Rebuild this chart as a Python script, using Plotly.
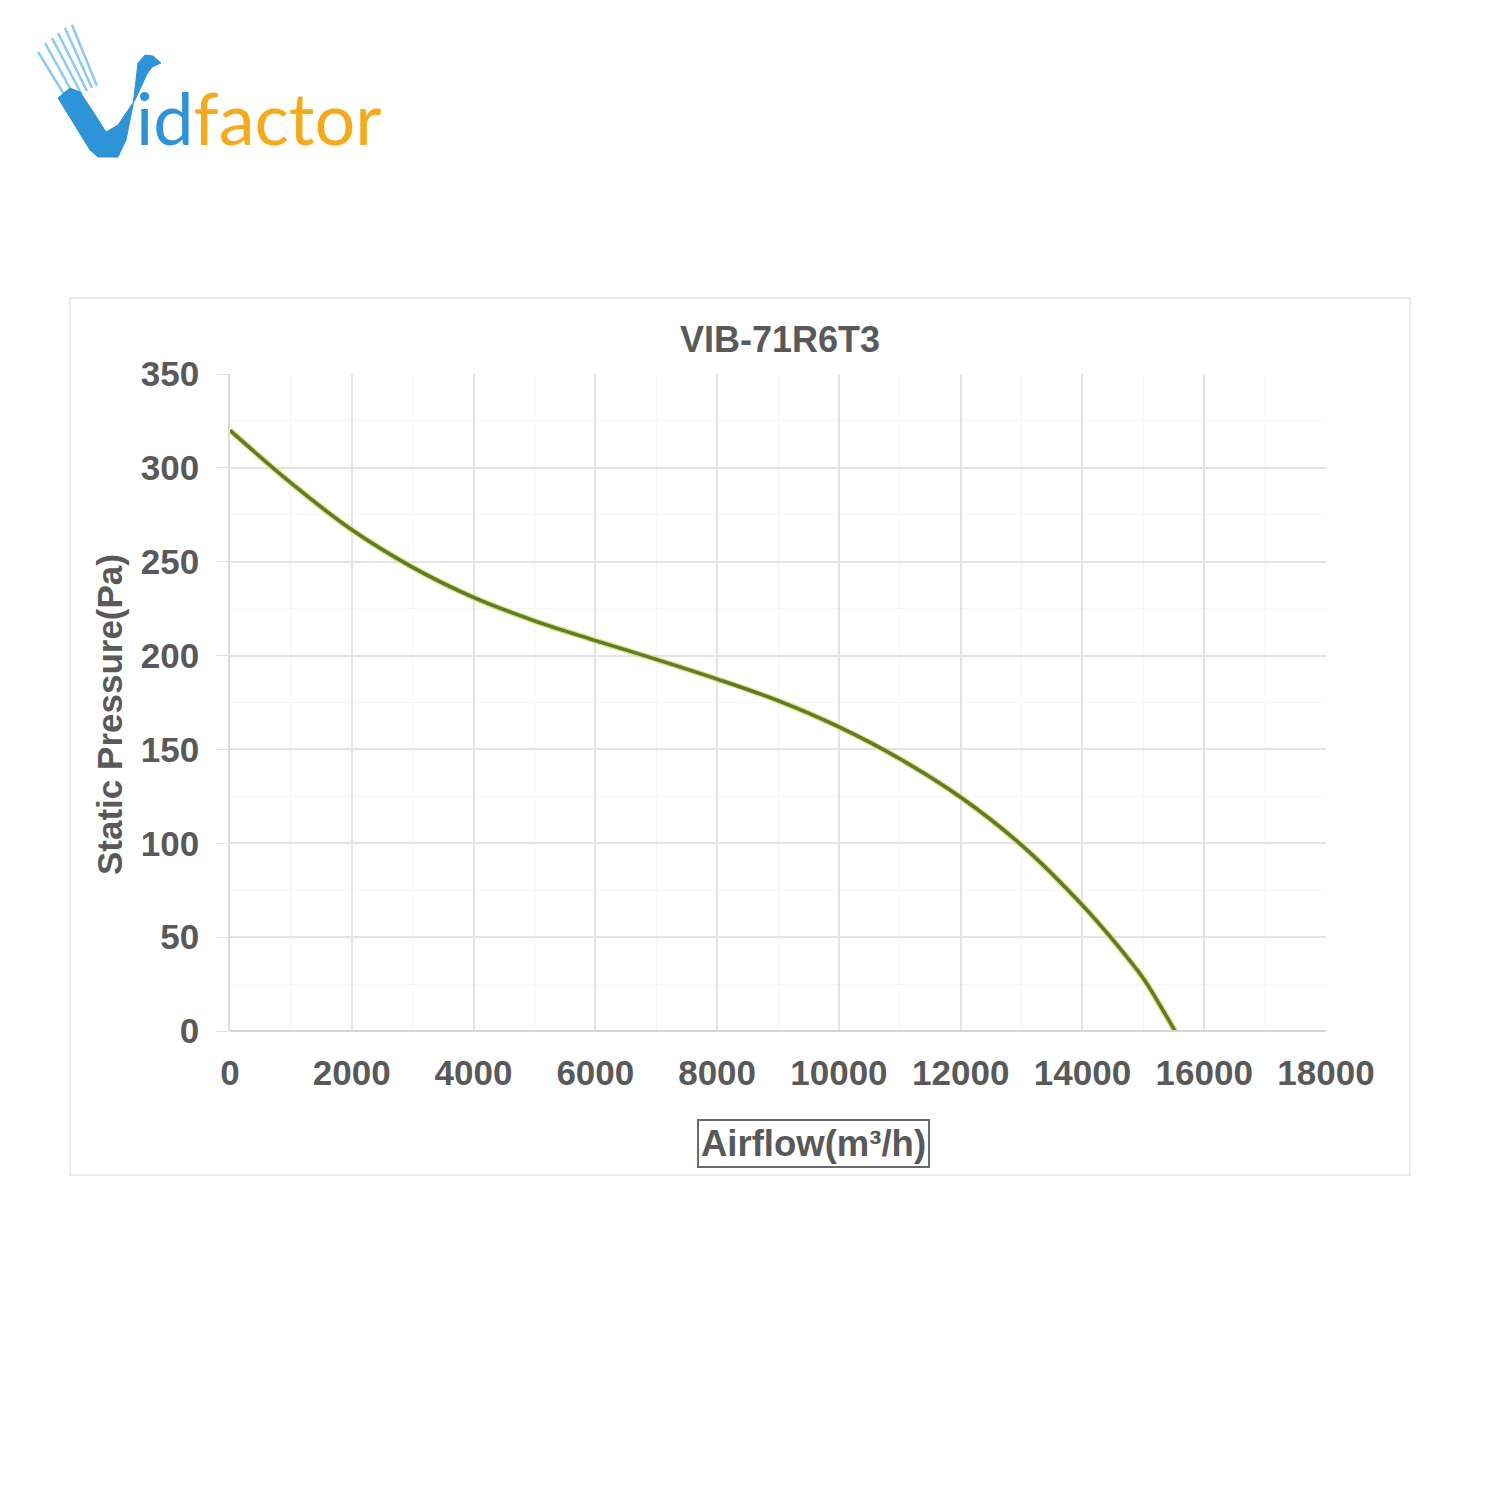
import plotly.graph_objects as go

# ---- data ----
airflow = [0, 1000, 2000, 3000, 4000, 5000, 6000, 7000, 8000, 9000, 10000, 11000, 12000, 13000, 14000, 14500, 15000, 15250, 15520]
pressure = [320, 292, 267, 247, 231, 218.5, 208, 198, 187.5, 176, 162, 145, 124.5, 99, 67, 48.5, 28, 15, 0]
x_ticks = [0, 2000, 4000, 6000, 8000, 10000, 12000, 14000, 16000, 18000]
x_tick_labels = ["0", "2000", "4000", "6000", "8000", "10000", "12000", "14000", "16000", "18000"]
y_ticks = [0, 50, 100, 150, 200, 250, 300, 350]
title_text = "VIB-71R6T3"
x_title = "Airflow(m³/h)"
y_title = "Static Pressure(Pa)"

W, H = 1500, 1500
OFF = 8  # page offset of the figure
L, R, T, B = 230 - OFF, 1326 - OFF, 374 - OFF, 1031 - OFF


def px(x):
    return (x - OFF - L) / (R - L)


def py(y):
    return (B - (y - OFF)) / (B - T)


FONT = "Liberation Sans, Arial"
GREY = "#595959"

fig = go.Figure()
fig.add_trace(go.Scatter(
    x=airflow, y=pressure, mode="lines",
    line=dict(color="#d8e27a", width=6, shape="spline", smoothing=1.0),
    hoverinfo="skip", showlegend=False))
fig.add_trace(go.Scatter(
    x=airflow, y=pressure, mode="lines",
    line=dict(color="#5e7a2a", width=3.5, shape="spline", smoothing=1.0),
    showlegend=False))

fig.update_layout(
    width=W, height=H, autosize=False,
    margin=dict(l=L, r=W - R, t=T, b=H - B),
    paper_bgcolor="white", plot_bgcolor="white",
    showlegend=False,
    xaxis=dict(range=[0, 18000], tickvals=x_ticks, ticktext=x_tick_labels, showgrid=True,
               gridcolor="#e4e4e4", gridwidth=1.5, zeroline=False,
               showline=False, ticks="outside", ticklen=0,
               ticklabelstandoff=11,
               tickfont=dict(family=FONT, size=35, color=GREY, weight="bold"),
               minor=dict(dtick=1000, showgrid=True, gridcolor="#f6f6f6", gridwidth=1)),
    yaxis=dict(range=[0, 350], tickvals=y_ticks, showgrid=True,
               gridcolor="#e4e4e4", gridwidth=1.5, zeroline=False,
               showline=True, linecolor="#dcdcdc", linewidth=1.5,
               ticks="outside", ticklen=12, tickcolor="#e0e0e0",
               ticklabelstandoff=10,
               tickfont=dict(family=FONT, size=35, color=GREY, weight="bold"),
               minor=dict(dtick=25, showgrid=True, gridcolor="#f6f6f6", gridwidth=1)),
)

shapes = []
# baseline
shapes.append(dict(type="line", xref="paper", yref="paper", x0=0, x1=1, y0=0, y1=0,
                   line=dict(color="#d6d6d6", width=2), layer="above"))
# chart frame
shapes.append(dict(type="rect", xref="paper", yref="paper",
                   x0=px(70), x1=px(1410), y0=py(1175), y1=py(298),
                   line=dict(color="#ececec", width=2), layer="below"))

# logo: feathers then bird-shaped V
feather_top = [(38, 52), (45, 43), (52, 38), (58, 33), (65, 28), (72, 25)]
feather_bot = [(70, 104), (76, 99), (82, 95), (87, 91), (92, 88), (97, 86)]
for (a, b), (c, d) in zip(feather_top, feather_bot):
    shapes.append(dict(type="line", xref="paper", yref="paper",
                       x0=px(a), y0=py(b), x1=px(c), y1=py(d),
                       line=dict(color="#8ccaf0", width=2.5)))
vpoly = [(58, 98), (90, 150), (98, 157), (118, 157), (126, 140), (133, 105), (136, 80),
         (138, 63), (145, 55), (153, 56), (161, 63), (152, 67), (147, 74), (135, 100),
         (118, 125), (106, 132), (92, 110), (80, 92), (70, 88)]
path = "M " + " L ".join(f"{px(a):.5f},{py(b):.5f}" for a, b in vpoly) + " Z"
shapes.append(dict(type="path", xref="paper", yref="paper", path=path,
                   fillcolor="#2f93d8", line=dict(color="#2f93d8", width=1)))
fig.update_layout(shapes=shapes)

annotations = [
    dict(text="<b>" + title_text + "</b>", xref="paper", yref="paper",
         x=px(780), y=py(340), xanchor="center", yanchor="middle", showarrow=False,
         font=dict(family=FONT, size=36, color=GREY)),
    dict(text="<b>" + y_title + "</b>", xref="paper", yref="paper",
         x=px(109), y=py(715), xanchor="center", yanchor="middle", showarrow=False, textangle=-90,
         font=dict(family=FONT, size=35, color=GREY)),
    dict(text="<b>" + x_title + "</b>", xref="paper", yref="paper",
         x=px(813), y=py(1143), xanchor="center", yanchor="middle", showarrow=False,
         bordercolor="#6a6a6a", borderwidth=2, borderpad=2, bgcolor="white",
         font=dict(family=FONT, size=36.5, color=GREY)),
    dict(text="<span style='color:#2f93d8'>id</span><span style='color:#f4aa1c'>factor</span>",
         xref="paper", yref="paper", x=px(134), y=py(162), xanchor="left", yanchor="bottom",
         showarrow=False, font=dict(family="Lato", size=72)),
]
fig.update_layout(annotations=annotations)

fig.write_html("out.html")
